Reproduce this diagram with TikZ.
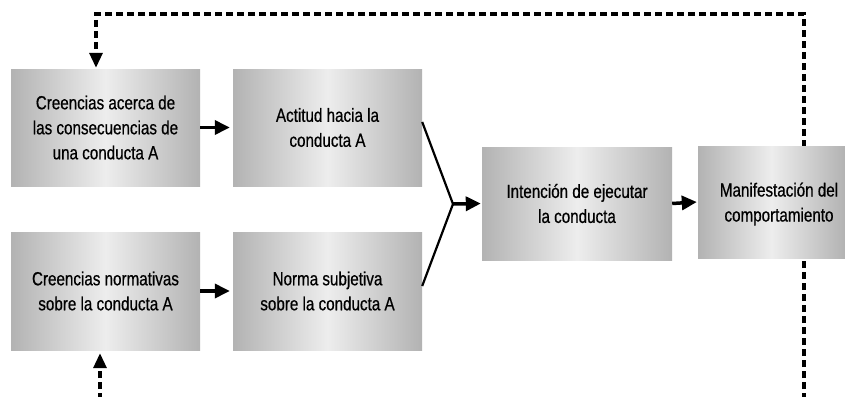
\documentclass[tikz,border=0pt]{standalone}
\usepackage{fontspec}
\setmainfont{Liberation Sans}[FakeStretch=0.8,FakeBold=0.6]
\usetikzlibrary{arrows.meta,backgrounds}
\begin{document}
\begin{tikzpicture}[x=1pt,y=-1pt,
  box/.style={draw=none, left color=black!30, right color=black!30, middle color=black!7,
    minimum width=189pt, minimum height=117pt, inner sep=0pt, align=center,
    font=\fontsize{19}{25}\selectfont},
  txt/.style={align=center, inner sep=0pt, font=\fontsize{19}{25}\selectfont},
  arr/.style={line width=3.5pt, -{Triangle[length=15pt,width=14pt]}},
  conv/.style={line width=2.2pt},
  dsh/.style={line width=3.2pt, dash pattern=on 7pt off 4pt},
  darr/.style={dsh, -{Triangle[length=15pt,width=13pt]}}]
\useasboundingbox (0,0) rectangle (845,396);
\node[box] (b1) at (105.5,127.5) {Creencias acerca de\\las consecuencias de\\una conducta A};
\node[box] (b2) at (327.5,127.5) {Actitud hacia la\\conducta A};
\node[box, minimum height=118pt] (b3) at (105.5,291) {Creencias normativas\\sobre la conducta A};
\node[box, minimum height=118pt] (b4) at (327.5,291) {Norma subjetiva\\sobre la conducta A};
\node[box, minimum width=190pt, minimum height=113pt] (b5) at (577,203.5) {Intención de ejecutar\\la conducta};
\node[box, minimum width=147pt, minimum height=112pt] (b6) at (771.5,202) {};
\node[txt] (t6) at (779,204) {Manifestación del\\comportamiento};
\coordinate (j) at (453,204);
\coordinate (tr) at (804,14);
\coordinate (tl) at (96,14);
\coordinate (br) at (804,400);
\coordinate (bl) at (100,400);
\draw[arr] (b1.east) -- ([xshift=-3pt]b2.west);
\draw[arr] (b3.east) -- ([xshift=-3pt]b4.west);
\draw[arr] (b5.east) -- ([xshift=-1pt]b6.west);
\draw[conv] ([yshift=5.5pt]b2.east) -- (j) -- ([yshift=5pt]b4.east);
\draw[arr] (j) -- ([xshift=-1pt]b5.west);
\begin{scope}[on background layer]
\draw[darr] (br) -- (tr) -- (tl) -- ([xshift=-9.5pt,yshift=1pt]b1.north);
\end{scope}
\draw[darr] (bl) -- ([xshift=-5.5pt,yshift=-3pt]b3.south);
\end{tikzpicture}
\end{document}
